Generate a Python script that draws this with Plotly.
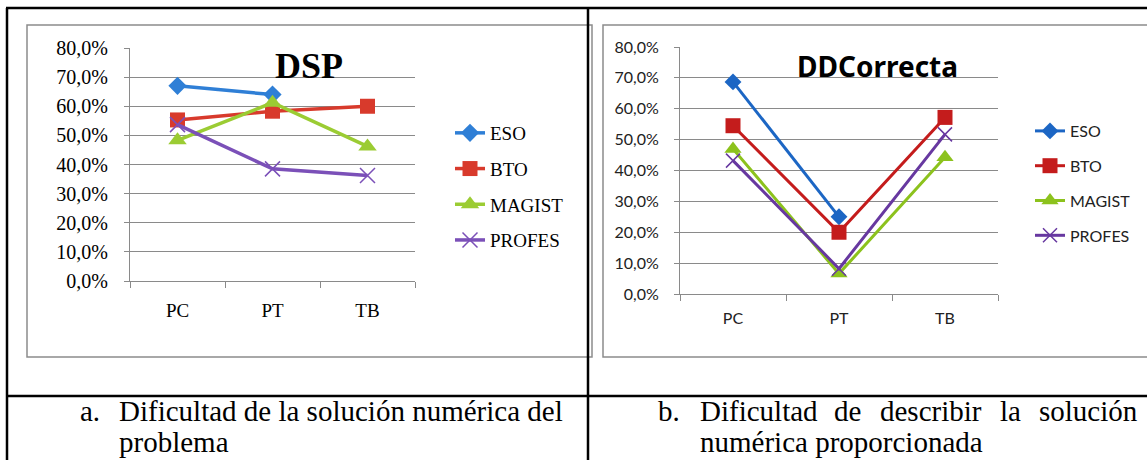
import plotly.graph_objects as go

W, H = 1147, 460

categories = ["PC", "PT", "TB"]
series_names = ["ESO", "BTO", "MAGIST", "PROFES"]

# Chart a: DSP
dsp_eso = [0.67, 0.64, None]
dsp_bto = [0.553, 0.583, 0.600]
dsp_magist = [0.483, 0.612, 0.462]
dsp_profes = [0.537, 0.385, 0.362]

# Chart b: DDCorrecta
ddc_eso = [0.687, 0.250, None]
ddc_bto = [0.545, 0.200, 0.572]
ddc_magist = [0.470, 0.066, 0.443]
ddc_profes = [0.432, 0.082, 0.517]

y_ticks = [0, 0.1, 0.2, 0.3, 0.4, 0.5, 0.6, 0.7, 0.8]

colors_a = ["#2f7fd6", "#d83a2c", "#9bcc33", "#7b50b8"]
colors_b = ["#1c66c4", "#c41c1c", "#8cc21d", "#6738a0"]
symbols = ["diamond", "square", "triangle-up", "x-thin"]
msizes_a = [14, 15, 16, 15]
msizes_b = [13, 15, 15, 14]


def px(x):
    return x / W


def py(y):
    return 1 - y / H


fig = go.Figure()

for name, vals, col, sym, ms in zip(series_names, [dsp_eso, dsp_bto, dsp_magist, dsp_profes],
                                   colors_a, symbols, msizes_a):
    fig.add_trace(go.Scatter(
        x=categories, y=vals, name=name, mode="lines+markers",
        xaxis="x", yaxis="y", legend="legend", legendgroup="a" + name,
        line=dict(color=col, width=3.5),
        marker=dict(symbol=sym, size=ms, color=col, line=dict(color=col, width=1.5 if sym == "x-thin" else 0)),
        connectgaps=False,
    ))

for name, vals, col, sym, ms in zip(series_names, [ddc_eso, ddc_bto, ddc_magist, ddc_profes],
                                   colors_b, symbols, msizes_b):
    fig.add_trace(go.Scatter(
        x=categories, y=vals, name=name, mode="lines+markers",
        xaxis="x2", yaxis="y2", legend="legend2", legendgroup="b" + name,
        line=dict(color=col, width=3),
        marker=dict(symbol=sym, size=ms, color=col, line=dict(color=col, width=1.5 if sym == "x-thin" else 0)),
        connectgaps=False,
    ))

grid = "#8a8a8a"
serif = "Liberation Serif"
sans = "Lato"

common_y = dict(range=[0, 0.8], tickvals=y_ticks, tickformat=".1%", showgrid=True,
                gridcolor=grid, gridwidth=1, showline=True, linecolor=grid, linewidth=1,
                ticks="outside", ticklen=5, tickcolor=grid, zeroline=False, fixedrange=True,
                automargin=False)
common_x = dict(type="category", range=[-0.5, 2.5], tickson="boundaries", ticks="outside",
                ticklen=6, tickcolor=grid, showline=True, linecolor=grid, linewidth=1,
                showgrid=False, zeroline=False, fixedrange=True, automargin=False)

fig.update_layout(
    width=W, height=H,
    margin=dict(l=0, r=0, t=0, b=0, pad=0, autoexpand=False),
    paper_bgcolor="white", plot_bgcolor="rgba(0,0,0,0)",
    separators=",.",
    xaxis=dict(domain=[px(130), px(415)], anchor="y",
               tickfont=dict(family=serif, size=19, color="black"), ticklabelstandoff=12, **common_x),
    yaxis=dict(domain=[py(281), py(48)], anchor="x",
               tickfont=dict(family=serif, size=20, color="black"), ticklabelstandoff=12, **common_y),
    xaxis2=dict(domain=[px(680), px(998)], anchor="y2",
                tickfont=dict(family=sans, size=16, color="#222"), ticklabelstandoff=10, **common_x),
    yaxis2=dict(domain=[py(294), py(47)], anchor="x2",
                tickfont=dict(family=sans, size=16, color="#222"), ticklabelstandoff=12, **common_y),
    legend=dict(x=px(450), y=py(114), xanchor="left", yanchor="top",
                font=dict(family=serif, size=19, color="black"), tracegroupgap=8,
                bgcolor="rgba(0,0,0,0)", itemwidth=30),
    legend2=dict(x=px(1030), y=py(114), xanchor="left", yanchor="top",
                 font=dict(family=sans, size=16, color="#222"), tracegroupgap=11,
                 bgcolor="rgba(0,0,0,0)", itemwidth=30),
)

shapes = []
# chart boxes (gray)
shapes.append(dict(type="rect", xref="paper", yref="paper", x0=px(27), x1=px(592), y0=py(357), y1=py(25),
                   line=dict(color="#8c8c8c", width=1.5), layer="below"))
shapes.append(dict(type="rect", xref="paper", yref="paper", x0=px(603), x1=px(1160), y0=py(357), y1=py(25),
                   line=dict(color="#8c8c8c", width=1.5), layer="below"))
# table borders (black)
for x0, y0, x1, y1 in [(6, 8, 1147, 8), (7, 8, 7, 460), (588, 8, 588, 460), (6, 396, 1147, 396)]:
    shapes.append(dict(type="line", xref="paper", yref="paper", x0=px(x0), x1=px(x1), y0=py(y0), y1=py(y1),
                       line=dict(color="black", width=2.5)))
fig.update_layout(shapes=shapes)

ann = []
ann.append(dict(text="<b>DSP</b>", x=px(309), y=py(66), xref="paper", yref="paper", showarrow=False,
                font=dict(family="Liberation Serif", size=36, color="black"), xanchor="center", yanchor="middle"))
ann.append(dict(text="<b>DDCorrecta</b>", x=px(877), y=py(66), xref="paper", yref="paper", showarrow=False,
                font=dict(family="Noto Sans", size=28, color="black"), xanchor="center", yanchor="middle"))

cap_font = dict(family="Liberation Serif", size=29, color="black")


def cap(text, x, y, anchor="left"):
    ann.append(dict(text=text, x=px(x), y=py(y), xref="paper", yref="paper", showarrow=False,
                    font=cap_font, xanchor=anchor, yanchor="middle"))


cap("a.", 78, 411)
cap("Dificultad de la solución numérica del", 117, 411)
cap("problema", 117, 442)
cap("b.", 656, 411)
words_b = ["Dificultad", "de", "describir", "la", "solución"]
word_x = [698, 832, 878, 998, 1140]
for i, (w, wx) in enumerate(zip(words_b, word_x)):
    cap(w, wx, 411, "right" if i == len(words_b) - 1 else "left")
cap("numérica proporcionada", 698, 442)

fig.update_layout(annotations=ann)

fig.write_html("out.html", config={"displayModeBar": False},
               post_script="document.body.style.margin='0';document.body.style.overflow='hidden';")
